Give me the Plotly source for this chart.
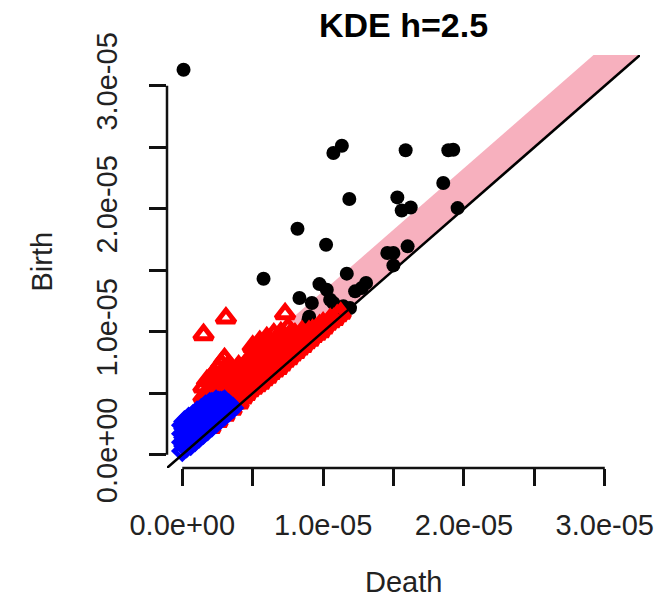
import plotly.graph_objects as go

# Persistence diagram of a kernel density estimate (bandwidth h = 2.5).
# Values are given in units of 1e-5.
UNIT = 1e-5

# Dimension 0 features (black circles): death, birth
dim0_death = [0.009, 1.073, 1.133, 1.586, 1.889, 1.924, 1.853, 1.186, 1.527, 1.558,
              1.622, 1.955, 0.818, 1.021, 0.577, 1.600, 1.456, 1.499, 1.499, 1.168,
              0.974, 1.026, 0.832, 0.920, 1.305, 1.274, 1.227, 1.050, 1.073, 1.191,
              1.144, 1.120, 0.901, 0.896, 0.908]
dim0_birth = [3.130, 2.453, 2.512, 2.475, 2.475, 2.480, 2.209, 2.079, 2.092, 1.986,
              2.010, 2.005, 1.837, 1.707, 1.431, 1.694, 1.640, 1.640, 1.539, 1.472,
              1.387, 1.341, 1.274, 1.233, 1.396, 1.355, 1.328, 1.260, 1.233, 1.192,
              1.206, 1.180, 1.122, 1.098, 1.057]

# Dimension 1 features (red triangles): death, birth
dim1_death = [0.151, 0.310, 0.730,
              0.15, 0.15, 0.20, 0.20, 0.25, 0.25,
              0.30, 0.30, 0.30, 0.30, 0.35, 0.35, 0.35, 0.40, 0.40, 0.40,
              0.45, 0.45, 0.45, 0.50, 0.50, 0.50, 0.50, 0.55, 0.55, 0.55, 0.55,
              0.60, 0.60, 0.60, 0.60, 0.65, 0.65, 0.65, 0.65, 0.70, 0.70, 0.70, 0.70,
              0.75, 0.75, 0.75, 0.75, 0.80, 0.80, 0.80, 0.85, 0.85, 0.85,
              0.90, 0.90, 0.95, 0.95, 1.00, 1.00, 1.05, 1.05, 1.10,
              0.20, 0.25, 0.30, 0.35, 0.40,
              0.175, 0.175, 0.225, 0.225, 0.225, 0.275, 0.275, 0.275, 0.275,
              0.325, 0.325, 0.325, 0.325, 0.375, 0.375, 0.375,
              0.425, 0.425, 0.425, 0.425, 0.475, 0.475, 0.475,
              0.525, 0.525, 0.525, 0.525, 0.575, 0.575, 0.575, 0.575,
              0.625, 0.625, 0.625, 0.675, 0.675, 0.675, 0.725, 0.725, 0.725,
              0.775, 0.775, 0.775, 0.825, 0.825, 0.875, 0.875, 0.925, 0.925,
              0.975, 0.975, 1.025, 1.075, 1.125]
dim1_birth = [0.976, 1.111, 1.146,
              0.47, 0.55, 0.52, 0.62, 0.58, 0.70,
              0.36, 0.50, 0.64, 0.78, 0.40, 0.55, 0.70, 0.45, 0.58, 0.72,
              0.49, 0.60, 0.74, 0.54, 0.66, 0.80, 0.88, 0.58, 0.70, 0.82, 0.92,
              0.63, 0.74, 0.86, 0.95, 0.68, 0.78, 0.90, 0.98, 0.73, 0.82, 0.92, 0.99,
              0.78, 0.86, 0.95, 1.03, 0.83, 0.90, 0.98, 0.88, 0.95, 1.00,
              0.93, 1.00, 0.98, 1.02, 1.03, 1.07, 1.08, 1.10, 1.13,
              0.22, 0.27, 0.32, 0.37, 0.42,
              0.50, 0.60, 0.45, 0.56, 0.66, 0.40, 0.52, 0.64, 0.74,
              0.38, 0.48, 0.60, 0.72, 0.42, 0.52, 0.64,
              0.46, 0.54, 0.66, 0.70, 0.52, 0.63, 0.76,
              0.56, 0.68, 0.76, 0.86, 0.61, 0.72, 0.84, 0.90,
              0.66, 0.76, 0.88, 0.70, 0.80, 0.90, 0.76, 0.84, 0.96,
              0.81, 0.88, 0.99, 0.86, 0.93, 0.91, 0.97, 0.96, 1.01,
              1.00, 1.05, 1.06, 1.10, 1.15]

# Dimension 2 features (blue diamonds): death, birth
dim2_death = [0.00, 0.00, 0.00, 0.00, 0.03, 0.03, 0.03, 0.03,
              0.06, 0.06, 0.06, 0.06, 0.09, 0.09, 0.09, 0.09,
              0.12, 0.12, 0.12, 0.12, 0.15, 0.15, 0.15, 0.15,
              0.18, 0.18, 0.18, 0.18, 0.21, 0.21, 0.21, 0.21,
              0.24, 0.24, 0.24, 0.24, 0.27, 0.27, 0.27,
              0.30, 0.30, 0.30, 0.33, 0.33, 0.36,
              0.015, 0.015, 0.015, 0.015, 0.045, 0.045, 0.045, 0.045,
              0.075, 0.075, 0.075, 0.075, 0.105, 0.105, 0.105, 0.105,
              0.135, 0.135, 0.135, 0.135, 0.165, 0.165, 0.165, 0.165,
              0.195, 0.195, 0.195, 0.195, 0.225, 0.225, 0.225,
              0.255, 0.255, 0.255, 0.285, 0.285, 0.285, 0.315, 0.315, 0.345]
dim2_birth = [0.03, 0.10, 0.17, 0.24, 0.06, 0.13, 0.20, 0.27,
              0.08, 0.15, 0.22, 0.29, 0.11, 0.18, 0.25, 0.31,
              0.14, 0.21, 0.28, 0.34, 0.17, 0.24, 0.31, 0.37,
              0.20, 0.27, 0.34, 0.40, 0.23, 0.30, 0.37, 0.42,
              0.26, 0.33, 0.40, 0.44, 0.29, 0.36, 0.43,
              0.32, 0.38, 0.44, 0.35, 0.41, 0.38,
              0.07, 0.14, 0.21, 0.27, 0.10, 0.17, 0.24, 0.30,
              0.12, 0.19, 0.26, 0.32, 0.15, 0.22, 0.29, 0.35,
              0.18, 0.25, 0.32, 0.37, 0.21, 0.28, 0.35, 0.40,
              0.24, 0.31, 0.38, 0.42, 0.27, 0.34, 0.41,
              0.30, 0.37, 0.43, 0.33, 0.39, 0.43, 0.36, 0.41, 0.39]

# Confidence band width and shared axis limits
band = 0.33
axis_lo, axis_hi = -0.1085, 3.25

tick_vals = [0.0, 0.5, 1.0, 1.5, 2.0, 2.5, 3.0]
tick_text = ["0.0e+00", "", "1.0e-05", "", "2.0e-05", "", "3.0e-05"]

FONT = "Liberation Sans, Arial, Helvetica, sans-serif"


def u(vals):
    return [v * UNIT for v in vals]


fig = go.Figure()

# Pink confidence band above the diagonal
big = axis_hi + 1.0
fig.add_trace(go.Scatter(
    x=u([0, big, big, 0]), y=u([0, big, big + band, band]),
    fill="toself", fillcolor="#F7B0BE", mode="none", hoverinfo="skip",
    showlegend=False))

fig.add_trace(go.Scatter(
    x=u(dim0_death), y=u(dim0_birth), mode="markers",
    marker=dict(symbol="circle", size=14, color="black", line=dict(width=0)),
    showlegend=False))

fig.add_trace(go.Scatter(
    x=u(dim1_death), y=u(dim1_birth), mode="markers",
    marker=dict(symbol="triangle-up-open", size=16, color="red",
                line=dict(width=5, color="red")),
    showlegend=False))

fig.add_trace(go.Scatter(
    x=u(dim2_death), y=u(dim2_birth), mode="markers",
    marker=dict(symbol="diamond-open", size=12, color="blue",
                line=dict(width=5, color="blue")),
    showlegend=False))

# Diagonal birth = death
fig.add_trace(go.Scatter(
    x=u([axis_lo, axis_hi]), y=u([axis_lo, axis_hi]), mode="lines",
    line=dict(color="black", width=2.5), hoverinfo="skip", showlegend=False))

axis_common = dict(
    range=u([axis_lo, axis_hi]), showgrid=False, zeroline=False, showline=False,
    ticks="outside", ticklen=17, tickwidth=2.5, tickcolor="#111",
    tickvals=u(tick_vals), ticktext=tick_text,
    tickfont=dict(family=FONT, size=29, color="#222"),
)

fig.update_layout(
    width=668, height=599,
    margin=dict(l=167, r=28, t=55, b=131),
    paper_bgcolor="white", plot_bgcolor="white",
    xaxis=dict(**axis_common, ticklabelstandoff=14),
    yaxis=dict(**axis_common, tickangle=-90, ticklabelstandoff=20),
    title=dict(text="<b>KDE h=2.5</b>", x=0.5 + (167 - 28) / 2 / 668,
               xanchor="center", y=1 - 25 / 599, yanchor="middle",
               font=dict(family=FONT, size=34, color="black")),
    annotations=[
        dict(text="Death", xref="paper", yref="paper", x=0.5, y=(468 - 582) / 413,
             showarrow=False, xanchor="center", yanchor="middle",
             font=dict(family=FONT, size=29, color="#222")),
        dict(text="Birth", xref="paper", yref="paper", x=(41 - 167) / 473, y=0.5,
             textangle=-90, showarrow=False, xanchor="center", yanchor="middle",
             font=dict(family=FONT, size=29, color="#222")),
    ],
    shapes=[
        # R-style axis lines spanning the labelled tick range only
        dict(type="line", xref="x", yref="paper", x0=0, x1=3 * UNIT, y0=0, y1=0,
             line=dict(color="#111", width=2.5)),
        dict(type="line", xref="paper", yref="y", x0=0, x1=0, y0=0, y1=3 * UNIT,
             line=dict(color="#111", width=2.5)),
    ],
)

fig.write_html("out.html")
